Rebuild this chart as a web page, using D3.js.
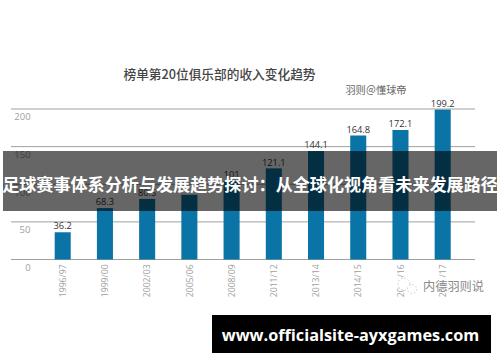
<!DOCTYPE html>
<html><head><meta charset="utf-8">
<script src="https://cdn.jsdelivr.net/npm/d3@7/dist/d3.min.js"></script>
<style>html,body{margin:0;padding:0;background:#fff}svg{display:block}</style>
</head><body><svg id="c" width="500" height="362"></svg>
<script>
const categories=["1996/97","1999/00","2002/03","2005/06","2008/09","2011/12","2013/14","2014/15","2015/16","2016/17"];
const revenue=[36.2,68.3,80.5,86,104,121.1,144.1,164.8,172.1,199.2];
const labels=["36.2","68.3","80.5","","101","121.1","144.1","164.8","172.1","199.2"];
const yTicks=[0,50,100,150,200];
const chartTitle="榜单第20位俱乐部的收入变化趋势";
const byline="羽则＠懂球帝";
const bannerText="足球赛事体系分析与发展趋势探讨：从全球化视角看未来发展路径";
const urlText="www.officialsite-ayxgames.com";
const watermark="内德羽则说";
const iconDots=[[404,284,6],[412,289,4.5]];
const font="'Noto Sans CJK SC','Noto Sans',sans-serif";
const svg=d3.select("#c").style("font-family",font);
const x=d3.scaleBand().domain(categories).range([41.6,463.8]).paddingInner(0.62).paddingOuter(0.31);
const y=d3.scaleLinear().domain([0,200]).range([259.5,109]);
svg.append("g").selectAll("line").data(yTicks).join("line")
 .attr("x1",11).attr("x2",475).attr("y1",d=>y(d)).attr("y2",d=>y(d))
 .attr("stroke","#a0a0a0").attr("stroke-width",1);
svg.append("g").selectAll("text").data(yTicks).join("text")
 .attr("x",d=>d===0?28:d===50?25:22.5).attr("text-anchor","middle").attr("y",d=>y(d)+11.3)
 .attr("font-size",9.5).attr("font-family","'Open Sans',sans-serif").attr("fill","#a0a0a0").text(d=>d);
svg.append("g").selectAll("rect").data(categories).join("rect")
 .attr("x",d=>x(d)).attr("width",x.bandwidth())
 .attr("y",(d,i)=>y(revenue[i])).attr("height",(d,i)=>y(0)-y(revenue[i]))
 .attr("fill","#0a74a6");
svg.append("g").selectAll("text").data(categories).join("text")
 .attr("x",d=>x(d)+x.bandwidth()/2).attr("y",(d,i)=>y(revenue[i])-2.8)
 .attr("text-anchor","middle").attr("font-size",9.3).attr("font-family","'Open Sans',sans-serif").attr("fill","#333")
 .text((d,i)=>labels[i]);
svg.append("g").selectAll("text").data(categories).join("text")
 .attr("transform",d=>`translate(${x(d)+x.bandwidth()/2+3.2},297.3) rotate(-90)`)
 .attr("font-size",8.7).attr("font-family","'Open Sans',sans-serif").attr("fill","#a0a0a0").text(d=>d);
svg.append("text").attr("x",219.5).attr("y",79).attr("text-anchor","middle").attr("font-size",12.7).attr("font-weight",500).attr("fill","#444").text(chartTitle);
svg.append("text").attr("x",376).attr("y",94).attr("text-anchor","middle").attr("font-size",10.2).attr("fill","#666").text(byline);
svg.append("rect").attr("x",3).attr("y",151).attr("width",494).attr("height",60).attr("fill","#000").attr("fill-opacity",0.6);
svg.append("text").attr("x",250).attr("y",191).attr("text-anchor","middle").attr("font-size",17.1).attr("font-weight",700).attr("fill","#fff").text(bannerText);
svg.append("rect").attr("x",393).attr("y",277).attr("width",97).attr("height",11.5).attr("fill","#fff").attr("fill-opacity",0.92);
svg.append("g").selectAll("circle").data(iconDots).join("circle")
 .attr("cx",d=>d[0]).attr("cy",d=>d[1]).attr("r",d=>d[2])
 .attr("fill","#fff").attr("stroke","#b5b5b5").attr("stroke-width",0.7).attr("stroke-dasharray","1.5 2");
svg.append("text").attr("x",453.5).attr("y",291).attr("text-anchor","middle").attr("font-size",12.2).attr("fill","#8a8a8a").text(watermark);
svg.append("rect").attr("x",212).attr("y",315).attr("width",279).attr("height",38).attr("fill","#000");
svg.append("text").attr("x",350.5).attr("y",340.5).attr("text-anchor","middle").attr("font-size",16.3).attr("font-weight",700).attr("font-family","'Open Sans','DejaVu Sans',sans-serif").attr("fill","#fff").text(urlText);
</script></body></html>
